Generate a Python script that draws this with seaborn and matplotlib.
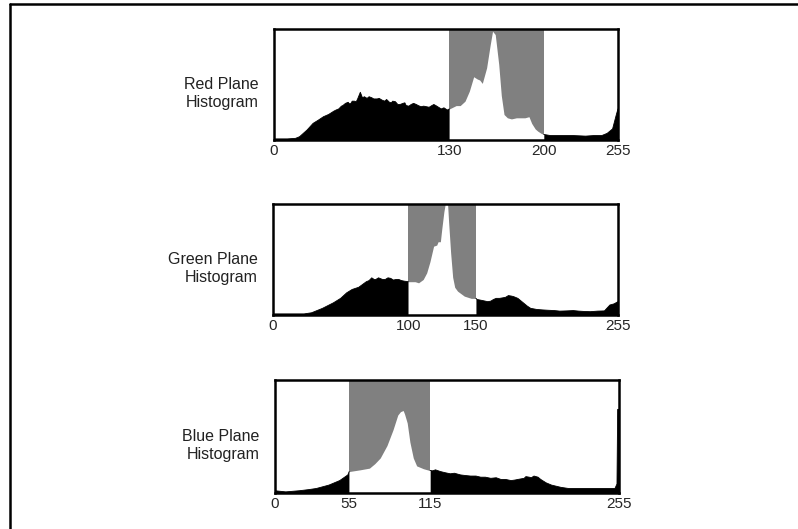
import numpy as np
import matplotlib.pyplot as plt
import seaborn as sns
from matplotlib.lines import Line2D

# Histogram outlines (intensity, relative count 0-100)
red_x = [0, 10, 16, 19, 24.5, 29, 33, 36.7, 40.5, 44.4, 46, 48, 50, 51, 53, 55, 56, 57, 58, 59.6,
         61, 62, 64, 65.6, 67, 69, 70.5, 72.6, 74, 76.5, 78, 80, 82, 83.5, 85.6, 87, 88, 90,
         91.8, 93.5, 95.6, 97, 98, 100, 101.7, 103.5, 105.5, 107, 109, 111, 113, 115, 117,
         118.5, 120, 122, 124, 126, 128.5, 130,
         135, 138, 141.6, 144.8, 148, 150.6, 152.5, 154.4, 157.6, 160.3, 162,
         164, 166.6, 168.5, 170.5, 173, 176, 179.7, 182.8, 186, 189, 191, 193.6, 195.5, 198,
         200, 205, 211, 222, 231, 237, 243, 247, 251, 253.8, 255]
red_y = [1, 1, 1.5, 3, 9, 15, 18, 21, 23, 26, 27, 28, 30.5, 31, 33, 34, 32.5, 33, 35, 35,
         34.5, 37, 43, 38, 39, 37.5, 39, 38, 37, 37, 37.5, 36, 35, 36.5, 34, 33.5, 35, 34.5,
         32, 32, 33, 33.5, 31, 30.5, 32, 33, 32, 31, 30, 30.5, 30, 29.5, 31,
         32, 31, 29.5, 28, 29, 27, 28,
         31, 31, 35, 44, 57, 55, 54, 51, 65, 86, 98,
         95, 68, 40, 23, 20, 19, 20, 20, 20, 21, 15, 10, 8, 6,
         5, 4, 4, 4, 3.5, 4, 4, 6, 10, 23, 28]

green_x = [0, 12, 23, 28.5, 36.6, 44.7, 50, 54.5, 58.5, 63.4, 69, 71, 73, 74.8, 76, 78, 79, 81,
           83, 85, 87, 89, 91, 93, 95, 97, 100,
           102.5, 105, 107.6, 111, 113.6, 116, 118.7, 121, 122, 123.7, 124.7, 126.3, 127.3,
           128.8, 129.8, 131.3, 132.8, 134.3, 136.4, 141.4, 146.5,
           150, 150.9, 155, 158.8, 161, 163, 165, 167.5, 170, 172, 174, 176.5, 178, 181, 185,
           188, 190.5, 195, 199, 203, 208, 212, 217, 222, 226, 230, 234.6, 240, 245, 249, 252, 255]
green_y = [1, 1, 1, 2, 6, 11, 15, 20, 23, 25, 30, 31, 33.5, 32, 32, 33.5, 33, 32,
           32, 33.5, 33, 31.5, 32, 32, 31, 30.5, 30,
           30, 30, 29, 32, 38, 48, 62, 63, 66, 66, 77, 93, 100,
           105, 84, 56, 34, 25, 21.5, 17, 15,
           15, 14, 13, 12, 12.5, 14, 15, 15, 15.5, 16, 17.5, 17, 16.5, 15, 11,
           8, 6, 5, 4.6, 4.3, 4, 3.5, 3.7, 4, 3.5, 3.2, 3, 3.5, 3.7, 9, 10, 12]

blue_x = [0, 8, 18, 25, 30.7, 40, 48, 51.6, 54, 55, 63, 70, 74, 78, 83, 87.5, 91, 93, 95,
          96, 98, 100, 102.5, 105, 110, 114.4,
          115, 116.7, 119, 122.6, 126, 130, 133, 137.6, 141, 145, 149, 152.5, 156, 160, 164,
          167.5, 171, 175, 178, 180, 184.7, 186, 188.5, 190, 192, 195, 197, 201, 205, 212,
          217.6, 227, 242, 252, 253.5, 254, 255]
blue_y = [2, 1, 2, 3, 4, 7, 11, 14, 16, 19, 20.5, 22, 26, 31, 42, 56, 69, 72, 73,
          70, 62, 45, 31, 24, 21.5, 20,
          20, 19.6, 20.5, 19, 18, 17, 17.5, 16, 15.5, 15, 15, 14, 14, 13, 13.5,
          12, 12, 11, 11.5, 12, 13, 14.5, 14, 13.5, 15, 14, 12, 9, 7, 5,
          4, 4, 4, 4, 8, 74, 74]

names = ["Red Plane\nHistogram", "Green Plane\nHistogram", "Blue Plane\nHistogram"]
bands = [(130, 200), (100, 150), (55, 115)]
xs = [red_x, green_x, blue_x]
ys = [red_y, green_y, blue_y]

sns.set_style("white")
plt.rcParams['font.family'] = ['Liberation Sans', 'DejaVu Sans']

fig = plt.figure(figsize=(7.98, 5.29), dpi=100)
positions = [
    [274 / 798, 1 - 140 / 529, 344 / 798, 111 / 529],
    [273 / 798, 1 - 315 / 529, 345 / 798, 111 / 529],
    [275 / 798, 1 - 493 / 529, 344 / 798, 113 / 529],
]

for pos, name, (lo, hi), x, y in zip(positions, names, bands, xs, ys):
    ax = fig.add_axes(pos)
    x = np.array(x)
    y = np.array(y)
    ax.axvspan(lo, hi, color="#808080", lw=0, zorder=0)
    out = (x <= lo) | (x >= hi)
    inside = (x >= lo) & (x <= hi)
    ax.fill_between(x, 0, y, where=out, color="black", lw=0, zorder=1)
    ax.fill_between(x, 0, y, where=inside, color="white", lw=0, zorder=1)
    sns.lineplot(x=x[x <= lo], y=y[x <= lo], color="black", lw=0.6, ax=ax, zorder=2)
    sns.lineplot(x=x[x >= hi], y=y[x >= hi], color="black", lw=0.6, ax=ax, zorder=2)
    ax.set_xlim(0, 255)
    ax.set_ylim(0, 100)
    ax.set_xticks([0, lo, hi, 255])
    ax.set_xticklabels(["0", str(lo), str(hi), "255"])
    ax.set_yticks([])
    ax.set_xlabel("")
    ax.set_ylabel("")
    ax.tick_params(axis="x", length=0, pad=3, labelsize=11)
    for sp in ax.spines.values():
        sp.set_visible(True)
        sp.set_color("black")
        sp.set_linewidth(1.8)
        sp.set_zorder(5)
    ax.text(-0.045, 0.42, name, transform=ax.transAxes, ha="right", va="center",
            multialignment="right", fontsize=11.5, color="#222222")

# partial frame around the figure (top and left edges)
fig.add_artist(Line2D([9.5 / 798, 1], [1 - 3.5 / 529, 1 - 3.5 / 529], color="black", lw=1.8))
fig.add_artist(Line2D([9.5 / 798, 9.5 / 798], [0, 1 - 3.5 / 529], color="black", lw=1.8))

fig.savefig("out.png", dpi=100)
